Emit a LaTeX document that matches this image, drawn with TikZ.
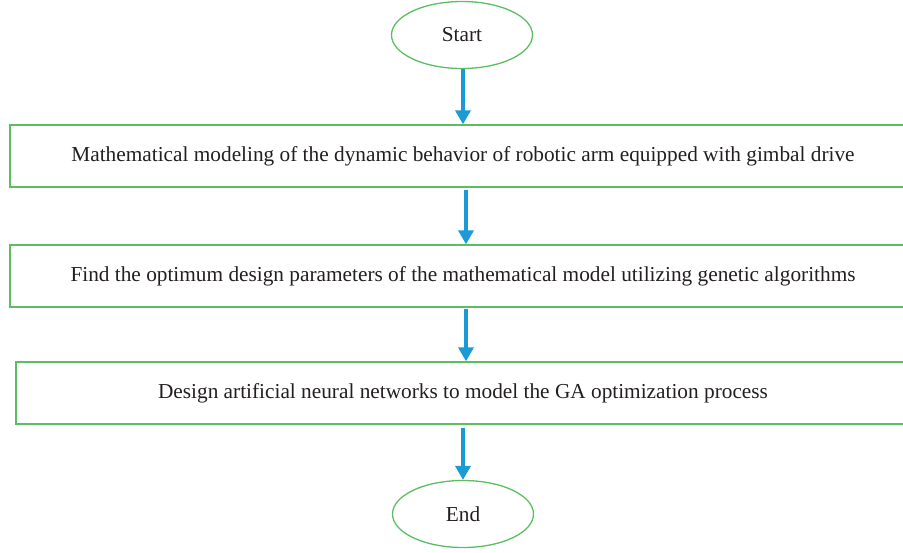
\documentclass[tikz,border=0pt]{standalone}
\usepackage{fontspec}
\setmainfont{Liberation Serif}
\usetikzlibrary{arrows.meta,shapes.geometric}
\definecolor{boxgreen}{RGB}{92,190,98}
\definecolor{flowblue}{RGB}{26,154,214}
\definecolor{inkgray}{RGB}{35,31,32}
\tikzset{
  every node/.style={text=inkgray, font=\fontsize{21.3}{25}\selectfont},
  terminal/.style={ellipse, draw=boxgreen, line width=1.3pt, minimum width=141pt, minimum height=67pt, inner sep=0pt},
  stepbox/.style={rectangle, draw=boxgreen, line width=1.4pt, minimum height=62pt, inner sep=0pt},
  flow/.style={draw=flowblue, line width=4pt, -{Triangle[width=15pt,length=14pt]}, shorten >=0pt}
}
\begin{document}
\begin{tikzpicture}[x=1pt,y=-1pt]
  \useasboundingbox (0,0) rectangle (903,552);
  \node[terminal] (start) at (462,35) {Start};
  \node[stepbox, minimum width=906pt] (model) at (463,156)
    {Mathematical modeling of the dynamic behavior of robotic arm equipped with gimbal drive};
  \node[stepbox, minimum width=906pt] (optim) at (463,276)
    {Find the optimum design parameters of the mathematical model utilizing genetic algorithms};
  \node[stepbox, minimum width=894pt] (ann) at (463,393)
    {Design artificial neural networks to model the GA optimization process};
  \node[terminal] (finish) at (463,514) {End};
  \draw[flow] (start.south -| 463,0) -- (model.north -| 463,0);
  \draw[flow] (model.south -| 466,0) ++(0,2) -- (optim.north -| 466,0);
  \draw[flow] (optim.south -| 466,0) ++(0,1) -- (ann.north -| 466,0);
  \draw[flow] (ann.south -| 463,0) ++(0,3) -- (finish.north);
\end{tikzpicture}
\end{document}
